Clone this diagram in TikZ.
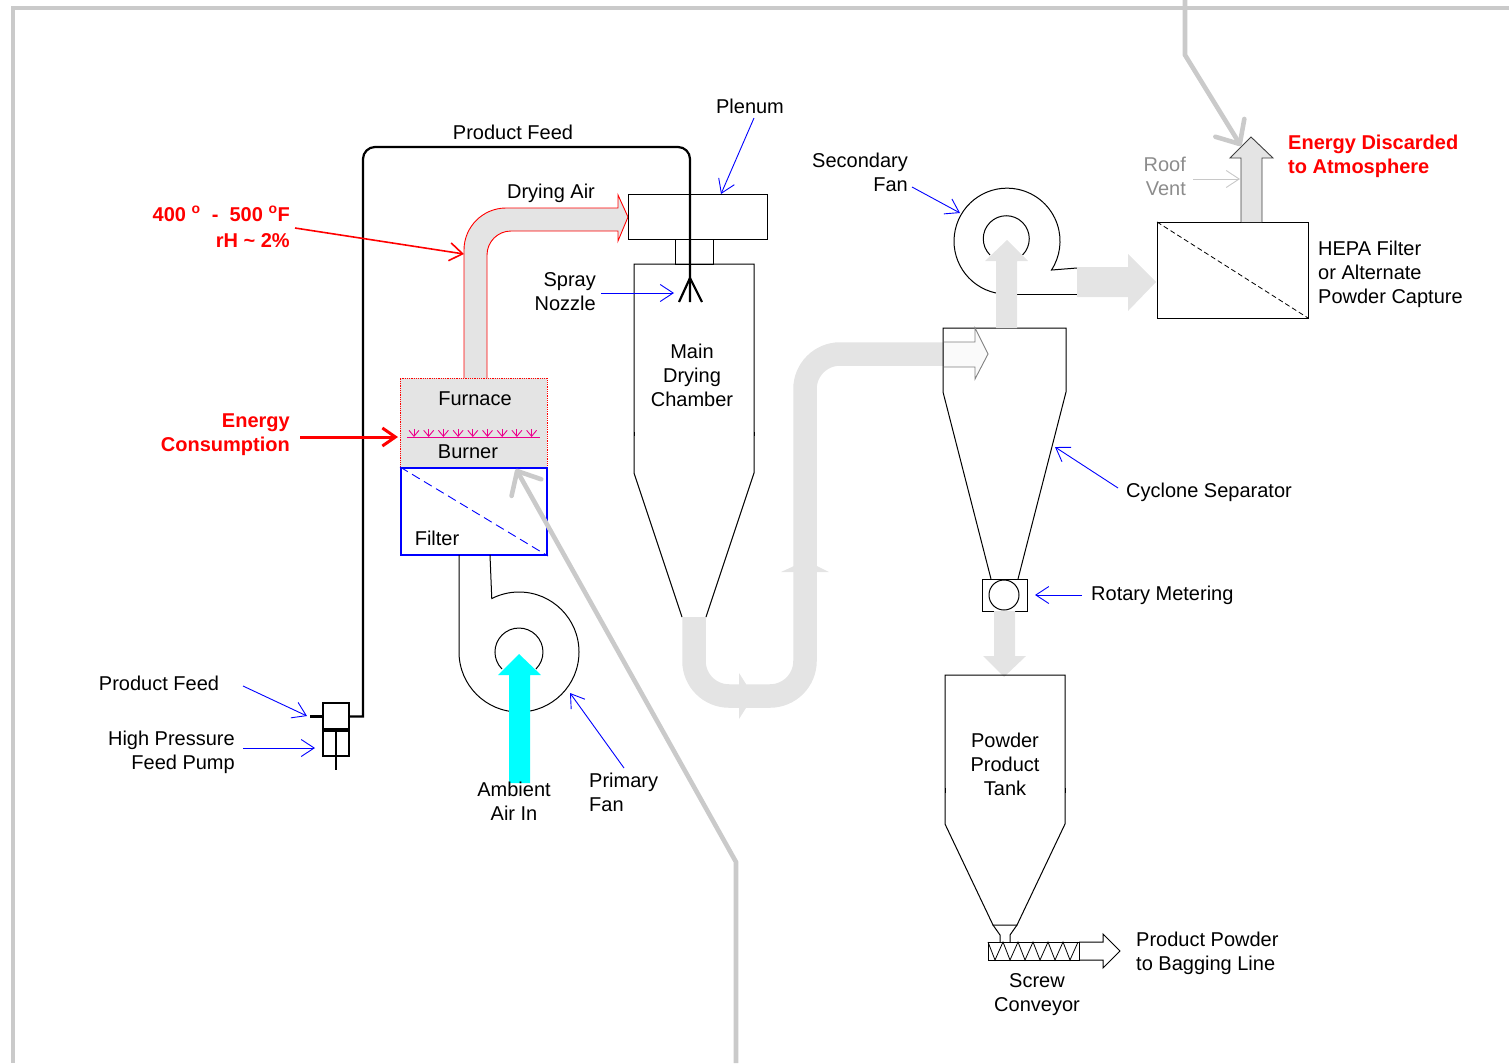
\documentclass[tikz,border=0pt]{standalone}
\usepackage{fontspec}
\setmainfont{Liberation Sans}
\usetikzlibrary{arrows.meta}
\definecolor{pipegray}{HTML}{E4E4E4}
\definecolor{framegray}{HTML}{CACACA}
\definecolor{labelgray}{HTML}{8C8C8C}
\definecolor{lightline}{HTML}{C8C8C8}
\definecolor{aqua}{HTML}{00FFFF}
\tikzset{
  x=1pt,y=-1pt,
  lbl/.style={inner sep=0pt,font=\fontsize{20}{24}\selectfont,text=black},
  redlbl/.style={lbl,text=red,font=\fontsize{20}{24}\selectfont\bfseries},
  outline/.style={draw=black,line width=1pt},
  box/.style={rectangle,draw=black,line width=1pt,inner sep=0pt,outer sep=0pt},
  pipe/.style={draw=none,fill=pipegray},
  bluearrow/.style={draw=blue,line width=.9pt,-{Straight Barb[length=13pt,width=17pt,line width=.9pt]}},
  ghostarrow/.style={draw=lightline,line width=.9pt,-{Straight Barb[length=13pt,width=17pt,line width=.9pt]}},
  redarrow/.style={draw=red,-{Straight Barb[length=13pt,width=18pt]}},
  frameline/.style={draw=framegray,line width=3.6pt},
  framearrow/.style={draw=framegray,line width=4.6pt,line join=miter,-{Straight Barb[length=19pt,width=34pt,line width=4.6pt,round]}},
  feedline/.style={draw=black,line width=2.2pt},
}
\begin{document}
\begin{tikzpicture}
\useasboundingbox (0,0) rectangle (1509,1063);
% coordinates
\coordinate (frameR) at (1509,8);
\coordinate (frameC) at (13,8);
\coordinate (frameB) at (13,1063);
% ---- low-level pipes
\draw[draw=pipegray,line width=23.5pt,line cap=butt,rounded corners=35pt]
  (694,617) -- (694,696) -- (805,696) -- (805,354) -- (944,354);
\fill[pipe] (781,572) -- (794,566) -- (817,566) -- (829,572) -- cycle;
\fill[pipe] (739,673) -- (746,684) -- (746,708) -- (739,719) -- cycle;
% drying air tube
\filldraw[fill=pipegray,draw=red,line width=.9pt]
  (464,378) [rounded corners=42pt] -- (464,208) [sharp corners] -- (618,208) -- (618,195) -- (628,217) -- (618,241) -- (618,231) [rounded corners=24pt] -- (487,231) [sharp corners] -- (487,378);
% main chamber
\node[box,minimum width=139pt,minimum height=45pt] (plenum) at (697.5,216.5) {};
\node[box,minimum width=38pt,minimum height=25pt] (neck) at (694,251.5) {};
\draw[outline] (682,617) -- (634,473) -- (634,264) -- (754,264) -- (754,473) -- (706,617);
\draw[outline] (634,432) -- (634,436) (754,432) -- (754,436);
\node[lbl,align=center] (chamber) at (692,375) {Main\\Drying\\Chamber};
% furnace and filter
\node[rectangle,fill=pipegray,draw=red,densely dotted,line width=.8pt,inner sep=0pt,minimum width=147pt,minimum height=90pt] (furnace) at (473.5,423) {};
\node[rectangle,draw=blue,line width=2pt,inner sep=0pt,minimum width=146pt,minimum height=87pt] (filter) at (474,511.5) {};
\draw[draw=blue,line width=.9pt,dashed,dash pattern=on 9pt off 5pt] (filter.north west) -- (filter.south east);
\node[lbl] (furnaceLbl) at (475,399) {Furnace};
\node[lbl] (burnerLbl) at (468,452) {Burner};
\node[lbl] (filterLbl) at (437,538) {Filter};
\coordinate (burnL) at (407,437);
\coordinate (burnR) at (540,437);
\draw[draw=magenta,line width=.9pt] (burnL) -- (burnR);
\foreach \bx in {414,428.7,443.4,458.1,472.8,487.5,502.2,516.9,531.6}
  \draw[draw=magenta,line width=.9pt,-{Straight Barb[length=6pt,width=10pt,line width=.9pt]}] (\bx,429) -- (\bx,437);
% primary fan
\draw[outline] (459,555) -- (459,652) arc[start angle=180,end angle=477,radius=60pt] -- (490,555);
\draw[outline] (502,669) arc[start angle=225,end angle=-45,radius=24pt];
\fill[aqua] (509,783) -- (509,675) -- (498,675) -- (519,654) -- (541,675) -- (530,675) -- (530,783) -- cycle;
\node[lbl,align=center] (ambient) at (514,801) {Ambient\\Air In};
\node[lbl,align=left,anchor=west] (primaryLbl) at (589,792) {Primary\\Fan};
% feed pump
\node[box,line width=2.2pt,minimum width=26pt,minimum height=27pt] (pumpTop) at (336,716.5) {};
\node[box,line width=2.2pt,minimum width=26pt,minimum height=26pt] (pumpBot) at (336,743) {};
\draw[feedline,line width=3.4pt] (pumpTop.south west) -- (pumpTop.south east);
\coordinate (rodEnd) at (336,770);
\draw[feedline] (pumpBot.north) -- (rodEnd);
\coordinate (stub) at (310,716.5);
\draw[feedline] (stub) -- (pumpTop.west);
\coordinate (feedBend) at (363,716.5);
\coordinate (feedCornerA) at (363,147);
\coordinate (feedCornerB) at (690,147);
\coordinate (nozzleTip) at (690,302);
\coordinate (nozzleApex) at (690,278);
\coordinate (nozzleL) at (679,302);
\coordinate (nozzleR) at (702,302);
\draw[feedline] (pumpTop.east) -- (feedBend) [rounded corners=12pt] -- (feedCornerA) -- (feedCornerB) [sharp corners] -- (nozzleTip);
\draw[feedline] (nozzleL) -- (nozzleApex) -- (nozzleR);
% cyclone
\draw[outline] (991,579) -- (943,392) -- (943,328) -- (1066,328) -- (1066,392) -- (1018,579);
\filldraw[fill=black!2,draw=gray,line width=.9pt] (944,342) -- (975,342) -- (975,328) -- (988,354) -- (975,379) -- (975,367) -- (944,367);
\node[box,minimum width=45pt,minimum height=32pt] (rotary) at (1004.5,595) {};
\node[circle,draw=black,line width=1pt,minimum size=30pt,inner sep=0pt] (rotor) at (1004,595) {};
\fill[pipe] (994,611) -- (1015,611) -- (1015,656) -- (1026,656) -- (1004,677) -- (983,656) -- (994,656) -- cycle;
% secondary fan
\draw[outline] (996,293) arc[start angle=258,end angle=-33,radius=53pt] -- (1077,268);
\draw[outline] (1017,294) -- (1077,294);
\draw[outline] (990,255) arc[start angle=225,end angle=-45,radius=23pt];
\fill[pipe] (996,328) -- (996,261) -- (985,261) -- (1007,240) -- (1028,261) -- (1017,261) -- (1017,328) -- cycle;
\fill[pipe] (1077,267) -- (1128,267) -- (1128,254) -- (1156,282) -- (1128,311) -- (1128,297) -- (1077,297) -- cycle;
% hepa
\node[box,minimum width=151pt,minimum height=96pt] (hepa) at (1232.5,270) {};
\draw[draw=black,line width=.8pt,dashed,dash pattern=on 5pt off 3pt] (hepa.north west) -- (hepa.south east);
\filldraw[fill=pipegray,draw=black!75,line width=.9pt] (1241,222) -- (1241,158) -- (1230,158) -- (1251,137) -- (1273,158) -- (1262,158) -- (1262,222);
% powder tank
\draw[outline] (993,925) -- (945,824) -- (945,675) -- (1065,675) -- (1065,824) -- (1017,925) -- cycle;
\draw[outline] (945,788) -- (945,793) (1065,788) -- (1065,793);
\draw[outline] (993,925) -- (1000,935) -- (1000,942) (1017,925) -- (1010,935) -- (1010,942);
\node[box,minimum width=91pt,minimum height=18pt] (screw) at (1033.5,951) {};
\draw[draw=black,line width=.8pt] (988,942) foreach \zx in {0,1,2,3,4,5} { -- (995+15*\zx,960) -- (1003+15*\zx,942) };
\draw[outline] (1079,942) -- (1103,942) -- (1103,934) -- (1120,951) -- (1103,968) -- (1103,960) -- (1079,960);
% texts
\node[lbl] (feedTop) at (513,132) {Product Feed};
\node[lbl] (plenumLbl) at (750,106) {Plenum};
\node[lbl] (dryingAir) at (551,193) {Drying Air};
\node[lbl,align=right,anchor=east] (secFan) at (908,172) {Secondary\\Fan};
\node[lbl,align=right,anchor=east,text=labelgray] (roofVent) at (1186,176) {Roof\\Vent};
\node[redlbl,align=left,anchor=west] (discard) at (1288,156) {Energy Discarded\\to Atmosphere};
\node[lbl,align=left,anchor=west] (hepaLbl) at (1318,274) {HEPA Filter\\or Alternate\\Powder Capture};
\node[redlbl,align=right,anchor=east,font=\fontsize{20}{26}\selectfont\bfseries] (tempLbl) at (290,227) {400 \textsuperscript{o}\ \ -\ \ 500 \textsuperscript{o}F\\rH \char`~\ 2\%};
\node[lbl,align=right,anchor=east] (spray) at (596,292) {Spray\\Nozzle};
\node[redlbl,align=right,anchor=east] (consume) at (290,435) {Energy\\Consumption};
\node[lbl,anchor=west] (cycloneLbl) at (1126,492) {Cyclone Separator};
\node[lbl,anchor=west] (rotaryLbl) at (1091,595) {Rotary Metering};
\node[lbl,align=center] (tankLbl) at (1005,764) {Powder\\Product\\Tank};
\node[lbl,align=left,anchor=west] (bagging) at (1136,953) {Product Powder\\to Bagging Line};
\node[lbl,align=center] (screwLbl) at (1037,995) {Screw\\Conveyor};
\node[lbl] (feedLow) at (159,683) {Product Feed};
\node[lbl,align=right,anchor=east] (pumpLbl) at (235,752) {High Pressure\\Feed Pump};
% annotation arrows
\coordinate (plenumA) at (754,118); \coordinate (plenumB) at (721,194);
\draw[bluearrow] (plenumA) -- (plenumB);
\coordinate (sprayA) at (601,293); \coordinate (sprayB) at (674,293);
\draw[bluearrow] (sprayA) -- (sprayB);
\coordinate (secA) at (912,187); \coordinate (secB) at (960,213);
\draw[bluearrow] (secA) -- (secB);
\coordinate (cycA) at (1118,488); \coordinate (cycB) at (1055,447);
\draw[bluearrow] (cycA) -- (cycB);
\coordinate (rotA) at (1082,595); \coordinate (rotB) at (1035,595);
\draw[bluearrow] (rotA) -- (rotB);
\coordinate (priA) at (624,768); \coordinate (priB) at (570,693);
\draw[bluearrow] (priA) -- (priB);
\coordinate (feedA) at (243,686); \coordinate (feedB) at (307,716);
\draw[bluearrow] (feedA) -- (feedB);
\coordinate (pumpA) at (243,748); \coordinate (pumpB) at (315,748);
\draw[bluearrow] (pumpA) -- (pumpB);
\coordinate (roofA) at (1193,179); \coordinate (roofB) at (1240,179);
\draw[ghostarrow] (roofA) -- (roofB);
\coordinate (tempA) at (295,228); \coordinate (tempB) at (464,254);
\draw[redarrow,line width=1.6pt] (tempA) -- (tempB);
\coordinate (consA) at (300,437); \coordinate (consB) at (398,437);
\draw[redarrow,line width=3pt] (consA) -- (consB);
% overlay lines
\draw[frameline] (frameR) -- (frameC) -- (frameB);
\coordinate (ovA) at (736,1063); \coordinate (ovB) at (736,862); \coordinate (ovC) at (516,469);
\draw[framearrow] (ovA) -- (ovB) -- (ovC);
\coordinate (ovD) at (1185,0); \coordinate (ovE) at (1185,55); \coordinate (ovF) at (1241,146);
\draw[framearrow] (ovD) -- (ovE) -- (ovF);
\end{tikzpicture}
\end{document}
